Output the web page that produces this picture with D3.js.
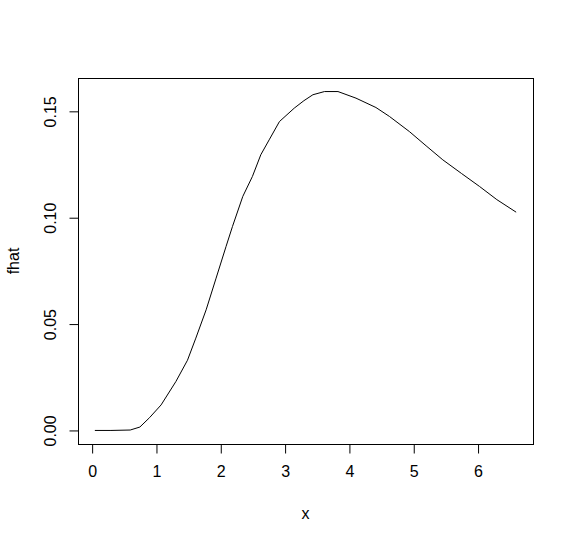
<!DOCTYPE html>
<html>
<head>
<meta charset="utf-8">
<script src="https://cdn.jsdelivr.net/npm/d3@7"></script>
<style>
  body { margin: 0; background: #fff; }
  svg text { font-family: "Liberation Sans", Arial, sans-serif; fill: #000; }
</style>
</head>
<body>
<div id="chart"></div>
<script>
// density estimate
const xValues = [0.05, 0.3, 0.6, 0.75, 0.9, 1.08, 1.31, 1.49, 1.62, 1.78, 1.935, 2.09, 2.19, 2.35, 2.5, 2.63,
    2.76, 2.92, 3.15, 3.3, 3.44, 3.62, 3.83, 4.11, 4.42, 4.63, 4.94, 5.2, 5.46, 5.75, 6.03, 6.3, 6.6];
const fhatValues = [0, 0, 0.0002, 0.0016, 0.006, 0.012, 0.023, 0.033, 0.0434, 0.0567, 0.0716, 0.0865, 0.0959, 0.110,
    0.1194, 0.1296, 0.1366, 0.1452, 0.1515, 0.155, 0.1578, 0.1593, 0.1593, 0.1562, 0.1518, 0.1476, 0.1405, 0.1338,
    0.1272, 0.1208, 0.1147, 0.1085, 0.1026];
const xTicks = [0, 1, 2, 3, 4, 5, 6];
const yTicks = [0.00, 0.05, 0.10, 0.15];

const width = 574;
const height = 542;
const margin = {top: 78, right: 41, bottom: 98, left: 78};

const data = xValues.map((x, i) => ({x, y: fhatValues[i]}));

// R style: pad the data range by 4% on each side
function padded(ext) {
    const d = (ext[1] - ext[0]) * 0.04;
    return [ext[0] - d, ext[1] + d];
}

const xScale = d3.scaleLinear()
    .domain(padded(d3.extent(xValues)))
    .range([margin.left, width - margin.right]);

const yScale = d3.scaleLinear()
    .domain(padded(d3.extent(fhatValues)))
    .range([height - margin.bottom, margin.top]);

const svg = d3.select('#chart')
  .append('svg')
    .attr('width', width)
    .attr('height', height);

// plot box
svg.append('rect')
    .attr('x', margin.left + 0.5)
    .attr('y', margin.top + 0.5)
    .attr('width', width - margin.left - margin.right)
    .attr('height', height - margin.top - margin.bottom)
    .attr('fill', 'none')
    .attr('stroke', '#000')
    .attr('stroke-width', 1);

const xAxis = d3.axisBottom(xScale)
    .tickValues(xTicks)
    .tickFormat(d3.format('d'))
    .tickSize(9)
    .tickPadding(12);

const gx = svg.append('g')
    .attr('transform', `translate(0.5,${height - margin.bottom + 0.5})`)
    .call(xAxis);
gx.select('.domain').remove();
gx.selectAll('text').attr('font-size', 16).attr('font-family', null);

const yAxis = d3.axisLeft(yScale)
    .tickValues(yTicks)
    .tickFormat(d3.format('.2f'))
    .tickSize(9)
    .tickPadding(0);

const gy = svg.append('g')
    .attr('transform', `translate(${margin.left + 0.5},0.5)`)
    .call(yAxis);
gy.select('.domain').remove();
gy.selectAll('text')
    .attr('font-size', 16)
    .attr('font-family', null)
    .attr('x', null)
    .attr('dy', null)
    .attr('text-anchor', 'middle')
    .attr('transform', d => `translate(-23,${yScale(d)}) rotate(-90)`)
    .attr('y', 0);
gy.selectAll('.tick').attr('transform', null);
gy.selectAll('.tick line')
    .attr('y1', d => yScale(d))
    .attr('y2', d => yScale(d));

// curve
svg.append('path')
    .datum(data)
    .attr('fill', 'none')
    .attr('stroke', '#000')
    .attr('stroke-width', 1)
    .attr('d', d3.line().x(d => xScale(d.x)).y(d => yScale(d.y)));

// axis titles
svg.append('text')
    .attr('x', (margin.left + width - margin.right) / 2)
    .attr('y', 519)
    .attr('text-anchor', 'middle')
    .attr('font-size', 16)
    .text('x');

svg.append('text')
    .attr('transform', `translate(19,${(margin.top + height - margin.bottom) / 2}) rotate(-90)`)
    .attr('text-anchor', 'middle')
    .attr('font-size', 16)
    .text('fhat');
</script>
</body>
</html>
